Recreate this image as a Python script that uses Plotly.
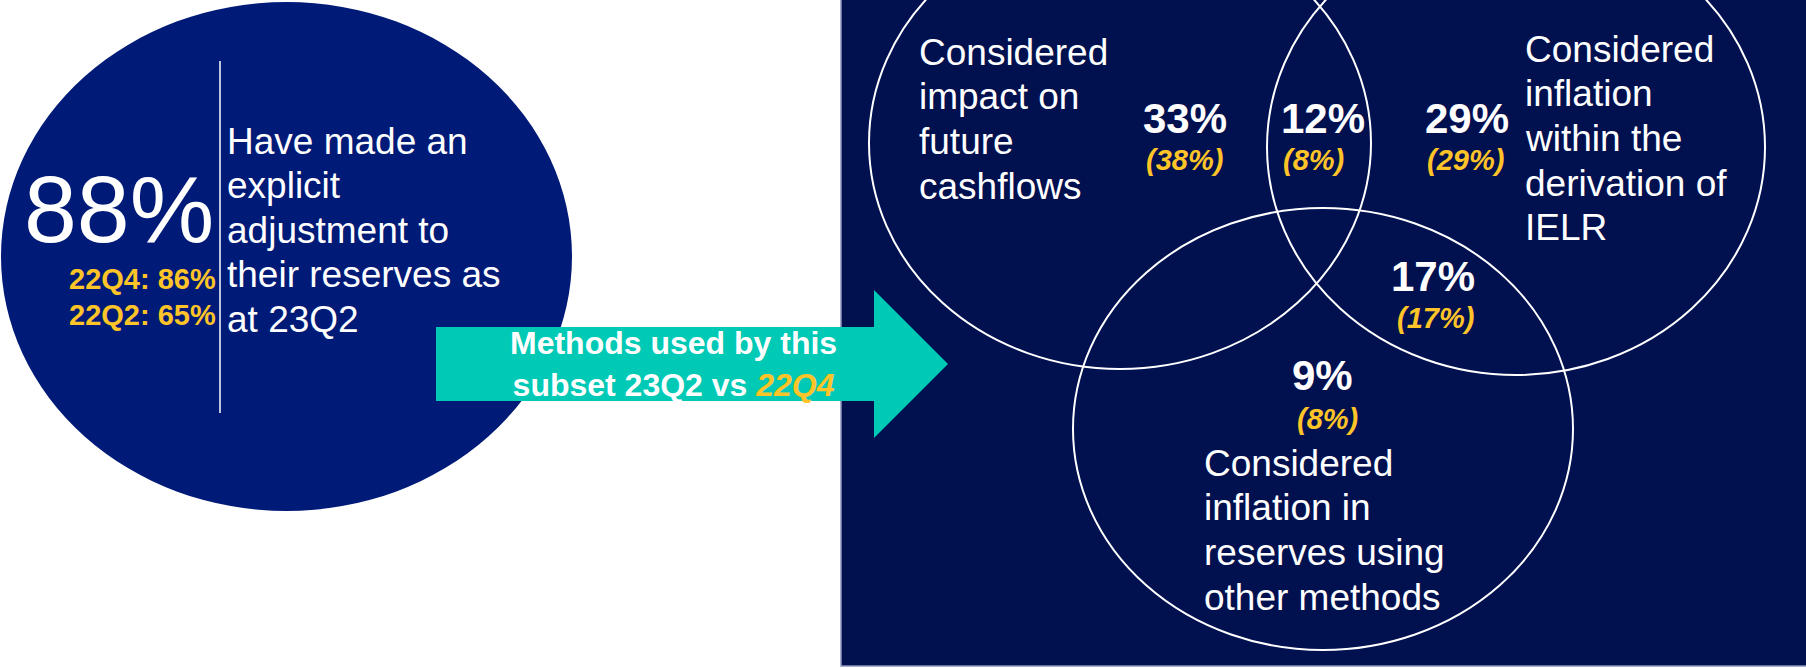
import plotly.graph_objects as go

W, H = 1806, 668

# Headline figures
headline_value = 88
history_labels = ["22Q4", "22Q2"]
history_values = [86, 65]
headline_lines = ["Have made an", "explicit", "adjustment to", "their reserves as", "at 23Q2"]

# Venn regions: current share (23Q2) and prior share (22Q4)
region_names = ["cashflows only", "cashflows & IELR", "IELR only", "IELR & other", "other only"]
current_pct = [33, 12, 29, 17, 9]
prior_pct = [38, 8, 29, 17, 8]

set_labels = [
    ["Considered", "impact on", "future", "cashflows"],
    ["Considered", "inflation", "within the", "derivation of", "IELR"],
    ["Considered", "inflation in", "reserves using", "other methods"],
]

FONT = "Liberation Sans, Arial, Helvetica, sans-serif"
WHITE = "#FFFFFF"
GOLD = "#FFC428"
NAVY = "#001A78"
PANEL = "#01104F"
TEAL = "#00C9B5"

fig = go.Figure()
fig.add_trace(go.Scatter(x=[0, W], y=[0, H], mode="markers",
                         marker=dict(opacity=0), hoverinfo="skip", showlegend=False))

shapes = []
# left headline disc
shapes.append(dict(type="circle", x0=1, x1=572, y0=2, y1=511,
                   fillcolor=NAVY, line=dict(width=0), layer="below"))
# divider inside disc
shapes.append(dict(type="line", x0=220, x1=220, y0=61, y1=413,
                   line=dict(color=WHITE, width=1.5)))
# dark panel behind the Venn diagram
shapes.append(dict(type="rect", x0=841, x1=W + 5, y0=-5, y1=666,
                   fillcolor=PANEL, line=dict(color="#8C94BC", width=1.5), layer="below"))
# arrow
shapes.append(dict(type="path",
                   path="M436,327 L874,327 L874,290 L948,364 L874,438 L874,401 L436,401 Z",
                   fillcolor=TEAL, line=dict(width=0)))
# Venn outlines
venn = [(1120, 143, 251, 226), (1516, 147, 249, 228), (1323, 429, 250, 221)]
for cx, cy, rx, ry in venn:
    shapes.append(dict(type="circle", x0=cx - rx, x1=cx + rx, y0=cy - ry, y1=cy + ry,
                       line=dict(color=WHITE, width=2), fillcolor="rgba(0,0,0,0)"))

ann = []
PAD = 3  # annotation box padding around the glyphs


def text(x, baseline, s, size, color=WHITE, anchor="left", bold=False, italic=False):
    if bold:
        s = f"<b>{s}</b>"
    if italic:
        s = f"<i>{s}</i>"
    dx = {"left": -PAD, "right": PAD, "center": 0}[anchor]
    ann.append(dict(x=x + dx, y=baseline - 0.35 * size, text=s, showarrow=False,
                    xanchor=anchor, yanchor="middle", align=anchor,
                    font=dict(family=FONT, size=size, color=color)))


# headline block
text(213, 242, f"{headline_value}%", 95, anchor="right")
for i, (lab, val) in enumerate(zip(history_labels, history_values)):
    text(215, 289 + 36 * i, f"{lab}: {val}%", 29, color=GOLD, anchor="right", bold=True)
for i, line in enumerate(headline_lines):
    text(228, 154 + 44.5 * i, line, 37)

# arrow caption
ann.append(dict(x=673, y=364, showarrow=False, xanchor="center", yanchor="middle",
                align="center",
                text=("<b>Methods used by this</b><br><b>subset 23Q2 vs "
                      f"<span style='color:{GOLD}'><i>22Q4</i></span></b>"),
                font=dict(family=FONT, size=32, color=WHITE)))

# set labels
label_pos = [(920, 65), (1526, 62), (1205, 476)]
for (x0, b0), lines in zip(label_pos, set_labels):
    for i, line in enumerate(lines):
        text(x0, b0 + 44.7 * i, line, 37)

# region values
value_pos = [(1185, 133), (1323, 133), (1467, 133), (1433, 291), (1322, 390)]
prior_pos = [(1184, 170), (1313, 170), (1465, 170), (1435, 328), (1327, 429)]
for (xv, bv), (xp, bp), cur, pri in zip(value_pos, prior_pos, current_pct, prior_pct):
    text(xv, bv, f"{cur}%", 42, anchor="center", bold=True)
    text(xp, bp, f"({pri}%)", 29, color=GOLD, anchor="center", bold=True, italic=True)

fig.update_layout(
    width=W, height=H,
    margin=dict(l=0, r=0, t=0, b=0),
    paper_bgcolor="white", plot_bgcolor="white",
    xaxis=dict(range=[0, W], visible=False, fixedrange=True),
    yaxis=dict(range=[H, 0], visible=False, fixedrange=True),
    shapes=shapes, annotations=ann, showlegend=False,
)

fig.write_html("out.html", config={"displayModeBar": False})
